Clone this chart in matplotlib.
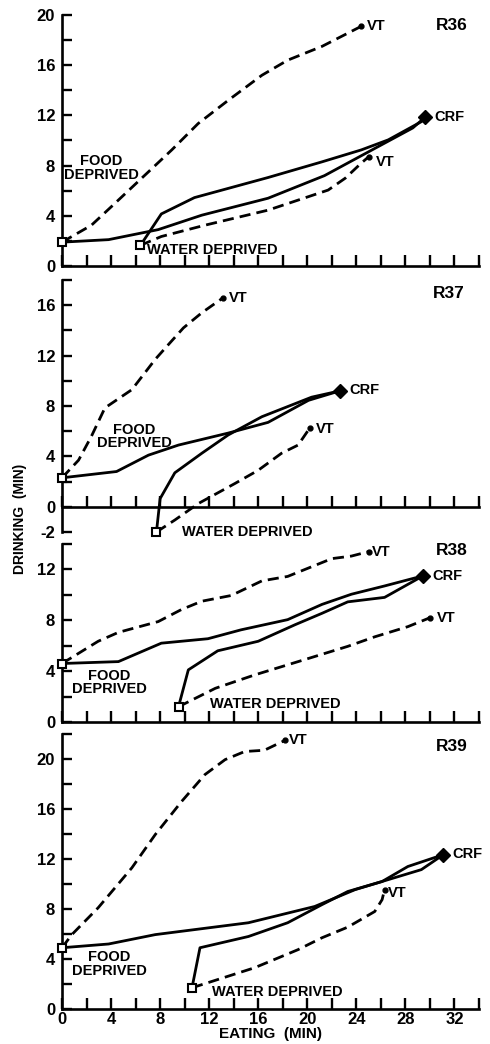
import matplotlib
matplotlib.use("Agg")
import matplotlib.pyplot as plt
import numpy as np

FONT = ["Liberation Sans Narrow", "Liberation Sans", "DejaVu Sans"]
plt.rcParams["font.family"] = FONT
plt.rcParams["font.weight"] = "bold"

# ── Data (eating min, drinking min) ──────────────────────────────────────────
# R36
r36_food_crf_x = [0, 3.8, 7.85, 11.4, 16.8, 21.4, 23.1, 28.6, 29.6]
r36_food_crf_y = [1.9, 2.1, 2.9, 4.05, 5.4, 7.2, 8.1, 11.0, 11.85]
r36_water_crf_x = [6.4, 8.1, 10.8, 16.8, 21.2, 24.4, 26.6, 29.3, 29.6]
r36_water_crf_y = [1.65, 4.15, 5.45, 7.05, 8.3, 9.25, 10.05, 11.5, 11.85]
r36_food_vt_x = [0, 2.4, 4.05, 6.5, 8.95, 11.1, 13.55, 16.3, 18.4, 21.2, 24.4]
r36_food_vt_y = [1.9, 3.25, 4.75, 7.0, 9.25, 11.35, 13.2, 15.2, 16.4, 17.5, 19.1]
r36_water_vt_x = [6.4, 8.1, 11.65, 16.8, 21.7, 23.1, 24.4, 25.0]
r36_water_vt_y = [1.65, 2.35, 3.25, 4.45, 6.05, 7.0, 8.2, 8.7]

# R37
r37_food_crf_x = [0, 4.45, 7.05, 9.5, 13.55, 16.8, 20.1, 22.65]
r37_food_crf_y = [2.3, 2.8, 4.1, 4.9, 5.85, 6.7, 8.45, 9.2]
r37_water_crf_x = [7.7, 8.0, 9.2, 11.4, 13.55, 16.3, 20.35, 22.65]
r37_water_crf_y = [-2.0, 0.65, 2.7, 4.25, 5.7, 7.15, 8.7, 9.2]
r37_food_vt_x = [0, 1.35, 2.4, 3.5, 5.7, 7.6, 8.7, 9.9, 11.4, 13.15]
r37_food_vt_y = [2.3, 3.7, 5.6, 7.85, 9.3, 11.7, 12.9, 14.2, 15.4, 16.6]
r37_water_vt_x = [7.7, 9.2, 11.1, 14.1, 16.0, 17.9, 19.25, 20.2]
r37_water_vt_y = [-2.0, -1.05, 0.25, 1.85, 2.9, 4.25, 4.9, 6.25]

# R38
r38_food_crf_x = [0, 4.6, 8.1, 11.9, 14.6, 18.4, 21.2, 23.6, 26.3, 29.45]
r38_food_crf_y = [4.6, 4.75, 6.2, 6.55, 7.25, 8.05, 9.25, 10.05, 10.7, 11.5]
r38_water_crf_x = [9.5, 10.3, 12.7, 16.0, 19.0, 21.2, 23.3, 26.3, 29.45]
r38_water_crf_y = [1.2, 4.1, 5.6, 6.35, 7.65, 8.55, 9.45, 9.8, 11.5]
r38_food_vt_x = [0, 2.95, 4.6, 7.85, 9.75, 11.4, 13.8, 16.3, 18.4, 22.0, 23.6, 25.0]
r38_food_vt_y = [4.6, 6.35, 7.05, 7.9, 8.85, 9.5, 9.95, 11.1, 11.45, 12.85, 13.05, 13.4]
r38_water_vt_x = [9.5, 12.5, 15.7, 20.1, 23.3, 25.5, 28.2, 30.0]
r38_water_vt_y = [1.2, 2.65, 3.7, 5.0, 5.95, 6.7, 7.5, 8.2]

# R39
r39_food_crf_x = [0, 3.8, 7.6, 15.2, 20.6, 23.9, 26.6, 29.3, 31.1]
r39_food_crf_y = [4.9, 5.2, 5.95, 6.9, 8.2, 9.55, 10.35, 11.15, 12.35]
r39_water_crf_x = [10.6, 11.25, 15.2, 18.4, 21.2, 23.3, 26.1, 28.2, 31.1]
r39_water_crf_y = [1.7, 4.9, 5.8, 6.9, 8.35, 9.4, 10.2, 11.4, 12.35]
r39_food_vt_x = [0, 0.8, 2.95, 5.7, 7.6, 9.75, 11.65, 13.3, 14.9, 16.5, 18.2]
r39_food_vt_y = [4.9, 5.95, 8.1, 11.3, 13.95, 16.6, 18.75, 19.95, 20.6, 20.7, 21.5]
r39_water_vt_x = [10.6, 12.2, 15.7, 19.25, 21.2, 23.3, 25.5, 26.1, 26.3]
r39_water_vt_y = [1.7, 2.2, 3.3, 4.75, 5.7, 6.55, 7.8, 8.75, 9.55]

PANELS = [
    # name, ylim, ylabels, series
    ("R36", (0, 20), [0, 4, 8, 12, 16, 20],
     (r36_food_crf_x, r36_food_crf_y), (r36_water_crf_x, r36_water_crf_y),
     (r36_food_vt_x, r36_food_vt_y), (r36_water_vt_x, r36_water_vt_y)),
    ("R37", (-2, 18), [-2, 0, 4, 8, 12, 16],
     (r37_food_crf_x, r37_food_crf_y), (r37_water_crf_x, r37_water_crf_y),
     (r37_food_vt_x, r37_food_vt_y), (r37_water_vt_x, r37_water_vt_y)),
    ("R38", (0, 14), [0, 4, 8, 12],
     (r38_food_crf_x, r38_food_crf_y), (r38_water_crf_x, r38_water_crf_y),
     (r38_food_vt_x, r38_food_vt_y), (r38_water_vt_x, r38_water_vt_y)),
    ("R39", (0, 22), [0, 4, 8, 12, 16, 20],
     (r39_food_crf_x, r39_food_crf_y), (r39_water_crf_x, r39_water_crf_y),
     (r39_food_vt_x, r39_food_vt_y), (r39_water_vt_x, r39_water_vt_y)),
]

# label placement per panel: (x, y) in data coords
LABEL_POS = {
    "R36": dict(title=(30.5, 19.2), vt1=(24.9, 19.1), crf=(30.4, 11.85), vt2=(25.6, 8.3),
                food=(0.15, 7.8), water=(6.9, 1.25)),
    "R37": dict(title=(30.2, 16.9), vt1=(13.6, 16.6), crf=(23.4, 9.3), vt2=(20.7, 6.2),
                food=(2.85, 5.6), water=(9.8, -2.0)),
    "R38": dict(title=(30.5, 13.5), vt1=(25.3, 13.35), crf=(30.2, 11.45), vt2=(30.6, 8.2),
                food=(0.8, 3.1), water=(12.1, 1.45)),
    "R39": dict(title=(30.5, 21.0), vt1=(18.5, 21.5), crf=(31.8, 12.4), vt2=(26.6, 9.3),
                food=(0.8, 3.6), water=(12.2, 1.4)),
}

# axes extents in figure pixels (top, bottom) for 490x1044 canvas
W, H = 490, 1044
AX_PIX = [(15, 266), (280, 532), (544, 722), (734, 1009)]
LEFT, RIGHT = 62, 479

fig = plt.figure(figsize=(W / 100, H / 100), dpi=100)
fig.patch.set_facecolor("white")

LW = 2.0
DASH = (0, (4.0, 2.2))
TXT = dict(fontsize=10.5, fontweight="bold", color="black", family=FONT)

axes = []
for (top, bot), panel in zip(AX_PIX, PANELS):
    name, ylim, ylabels, food_crf, water_crf, food_vt, water_vt = panel
    ax = fig.add_axes([LEFT / W, 1 - bot / H, (RIGHT - LEFT) / W, (bot - top) / H])
    axes.append(ax)

    ax.plot(*food_crf, color="black", lw=LW, solid_joinstyle="round", zorder=3)
    ax.plot(*water_crf, color="black", lw=LW, solid_joinstyle="round", zorder=3)
    ax.plot(*food_vt, color="black", lw=LW, linestyle=DASH, zorder=3)
    ax.plot(*water_vt, color="black", lw=LW, linestyle=DASH, zorder=3)

    # end points: VT dots, CRF diamond, start squares
    ax.plot(food_vt[0][-1], food_vt[1][-1], "o", color="black", ms=3.5, zorder=4, clip_on=False)
    ax.plot(water_vt[0][-1], water_vt[1][-1], "o", color="black", ms=3.5, zorder=4, clip_on=False)
    ax.plot(food_crf[0][-1], food_crf[1][-1], "D", color="black", ms=7, zorder=5, clip_on=False)
    ax.plot(food_crf[0][0], food_crf[1][0], "s", mfc="white", mec="black", mew=1.5,
            ms=6, zorder=6, clip_on=False)
    ax.plot(water_crf[0][0], water_crf[1][0], "s", mfc="white", mec="black", mew=1.5,
            ms=6, zorder=6, clip_on=False)

    pos = LABEL_POS[name]
    ax.text(*pos["title"], name, ha="left", va="center", **{**TXT, "fontsize": 12.5})
    ax.text(*pos["vt1"], "VT", ha="left", va="center", **TXT)
    ax.text(*pos["crf"], "CRF", ha="left", va="center", **TXT)
    ax.text(*pos["vt2"], "VT", ha="left", va="center", **TXT)
    ax.text(*pos["food"], "FOOD\nDEPRIVED", ha="left", va="center", linespacing=0.95,
            multialignment="center", **TXT)
    ax.text(*pos["water"], "WATER DEPRIVED", ha="left", va="center", **TXT)

    ax.set_xlim(0, 34)
    ax.set_ylim(*ylim)
    ax.set_facecolor("none")
    for s in ("top", "right"):
        ax.spines[s].set_visible(False)
    for s in ("left", "bottom"):
        ax.spines[s].set_linewidth(1.9)
    ax.spines["bottom"].set_position(("data", 0))

    ax.set_xticks(np.arange(0, 35, 2))
    ax.set_yticks(np.arange(ylim[0], ylim[1] + 1, 2))
    ax.set_yticklabels([str(v) if v in ylabels else "" for v in range(ylim[0], ylim[1] + 1, 2)])
    ax.tick_params(axis="both", direction="in", width=1.7, labelsize=12, colors="black")
    ax.tick_params(axis="y", length=7, pad=5)
    ax.tick_params(axis="x", length=8, pad=2)
    for lab in ax.get_yticklabels() + ax.get_xticklabels():
        lab.set_fontweight("bold")
        lab.set_family(FONT)

    if name != "R39":
        ax.set_xticklabels([])
    else:
        ax.set_xticklabels([str(v) if v % 4 == 0 and v <= 32 else "" for v in range(0, 35, 2)])

axes[-1].set_xlabel("EATING  (MIN)", fontsize=11, fontweight="bold", family=FONT, labelpad=0)
fig.text(20 / W, 1 - 519 / H, "DRINKING  (MIN)", rotation=90, ha="center", va="center",
         fontsize=10, fontweight="bold", family=FONT)

fig.savefig("out.png", dpi=100, facecolor="white")
